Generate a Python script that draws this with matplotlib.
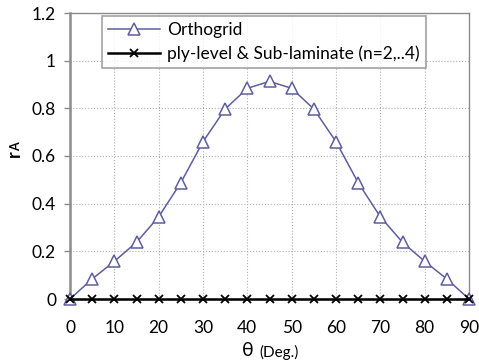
import matplotlib
matplotlib.use("Agg")
import matplotlib.pyplot as plt

theta = [0, 5, 10, 15, 20, 25, 30, 35, 40, 45, 50, 55, 60, 65, 70, 75, 80, 85, 90]
orthogrid = [0, 0.084, 0.158, 0.238, 0.345, 0.488, 0.66, 0.797, 0.884, 0.913,
             0.884, 0.797, 0.66, 0.488, 0.345, 0.238, 0.158, 0.084, 0]
ply_level = [0] * 19
xticks = [0, 10, 20, 30, 40, 50, 60, 70, 80, 90]
yticks = [0, 0.2, 0.4, 0.6, 0.8, 1.0, 1.2]
yticklabels = ["0", "0.2", "0.4", "0.6", "0.8", "1", "1.2"]

plt.rcParams['font.family'] = ['Lato', 'DejaVu Sans']

fig = plt.figure(figsize=(4.79, 3.62), dpi=100)
ax = fig.add_axes([70/479, 1-299/362, 399/479, 286/362])

blue = '#5E5E9E'
ax.plot(theta, orthogrid, color=blue, lw=1.1, marker='^', ms=8,
        mfc='white', mec=blue, mew=1.1, label='Orthogrid', zorder=3, clip_on=False)
ax.plot(theta, ply_level, color='black', lw=1.8, marker='x', ms=5.5,
        mew=1.3, label='ply-level & Sub-laminate (n=2,..4)', zorder=4, clip_on=False)

ax.set_xlim(0, 90)
ax.set_ylim(0, 1.2)
ax.set_xticks(xticks)
ax.set_yticks(yticks)
ax.set_yticklabels(yticklabels)
ax.grid(True, color='#b0b0b0', ls=':', lw=0.8)
ax.set_axisbelow(True)

for s in ['top', 'right', 'bottom']:
    ax.spines[s].set_color('#8c8c8c')
    ax.spines[s].set_linewidth(1.0)
ax.spines['left'].set_color('#8c8c8c')
ax.spines['left'].set_linewidth(1.8)
ax.tick_params(axis='y', length=4, color='#8c8c8c', width=1, labelsize=12.5, pad=6)
ax.tick_params(axis='x', length=0, labelsize=12.5, pad=15)

# y label "rA" (bold, with A subscripted)
fig.text(14/479, 1-154/362, 'r', fontsize=13, fontweight='bold', rotation=90,
         ha='center', va='center')
fig.text(16/479, 1-147/362, 'A', fontsize=9, fontweight='bold', rotation=90,
         ha='center', va='center')

fig.text(248/479, 1-350/362, 'θ', fontsize=14, ha='center', va='center')
fig.text(259/479, 1-352/362, '(Deg.)', fontsize=11, ha='left', va='center')

leg = ax.legend(loc='upper left', bbox_to_anchor=(32/399, 1-3/286), fontsize=12.5,
                frameon=True, fancybox=False, edgecolor='#8c8c8c', handlelength=3.0,
                borderpad=0.35, labelspacing=0.4, handletextpad=0.4, borderaxespad=0)
leg.get_frame().set_linewidth(1.2)

fig.savefig('out.png', dpi=100)
